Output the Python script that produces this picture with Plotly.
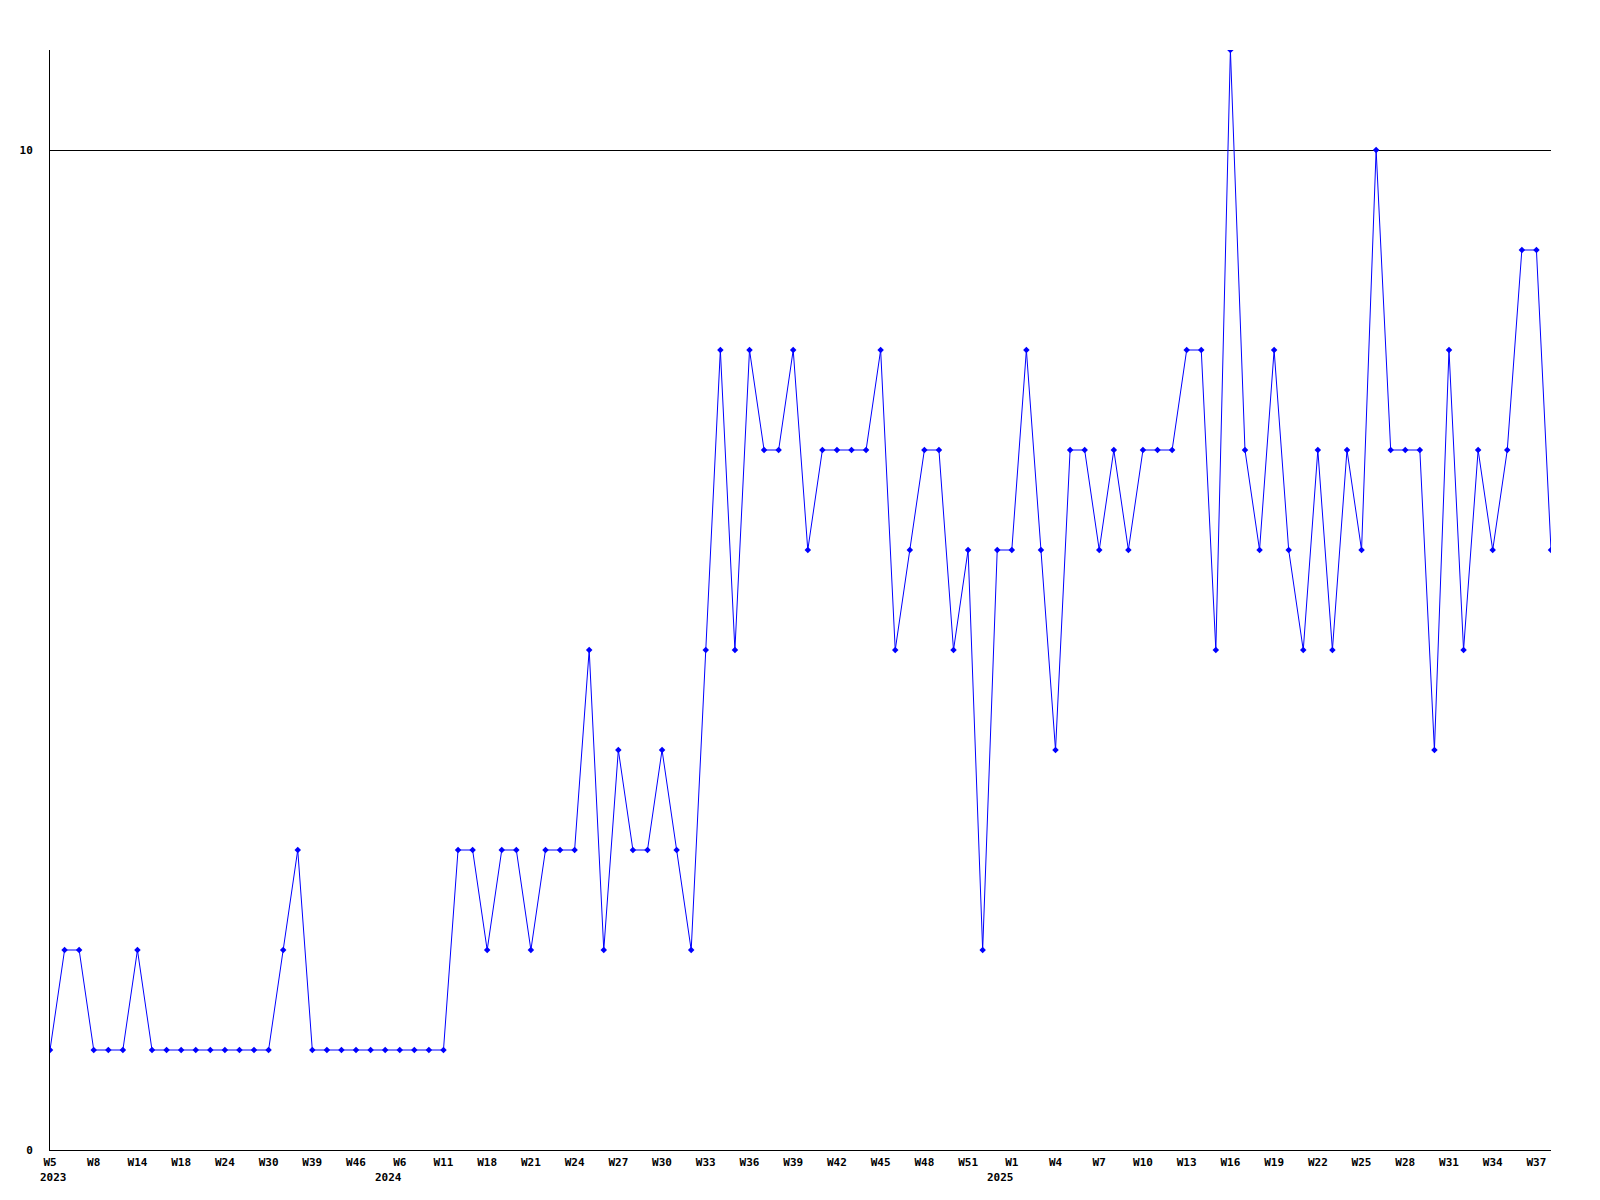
import plotly.graph_objects as go

# Weekly counts (one point per reported week)
values = [
    1, 2, 2, 1, 1, 1, 2, 1, 1, 1, 1, 1, 1, 1, 1, 1, 2, 3, 1, 1,
    1, 1, 1, 1, 1, 1, 1, 1, 3, 3, 2, 3, 3, 2, 3, 3, 3, 5, 2, 4,
    3, 3, 4, 3, 2, 5, 8, 5, 8, 7, 7, 8, 6, 7, 7, 7, 7, 8, 5, 6,
    7, 7, 5, 6, 2, 6, 6, 8, 6, 4, 7, 7, 6, 7, 6, 7, 7, 7, 8, 8,
    5, 11, 7, 6, 8, 6, 5, 7, 5, 7, 6, 10, 7, 7, 7, 4, 8, 5, 7, 6,
    7, 9, 9, 6,
]

# Week tick labels shown every third point
tick_labels = [
    "W5", "W8", "W14", "W18", "W24", "W30", "W39", "W46",
    "W6", "W11", "W18", "W21", "W24", "W27", "W30", "W33",
    "W36", "W39", "W42", "W45", "W48", "W51", "W1", "W4",
    "W7", "W10", "W13", "W16", "W19", "W22", "W25", "W28", "W31",
    "W34", "W37",
]
tick_step = 3

# Year labels: (point index, text)
year_idx = [0, 24, 66]
year_text = ["2023", "2024", "2025"]

y_ticks = [0, 10]

x_index = list(range(len(values)))
tick_positions = x_index[::tick_step][: len(tick_labels)]

fig = go.Figure()
fig.add_trace(
    go.Scatter(
        x=x_index,
        y=values,
        mode="lines+markers",
        line=dict(color="#0000FF", width=1),
        marker=dict(symbol="diamond", size=5, color="#0000FF"),
        showlegend=False,
    )
)

font = dict(family="DejaVu Sans Mono", size=11, color="black", weight="bold")

for i, (xi, txt) in enumerate(zip(year_idx, year_text)):
    first = i == 0
    fig.add_annotation(
        x=xi,
        xref="x",
        y=0,
        yref="paper",
        text=txt,
        showarrow=False,
        font=font,
        xanchor="left" if first else "right",
        xshift=-11 if first else 3,
        yanchor="top",
        yshift=-20,
        borderpad=0,
    )

fig.update_layout(
    width=1600,
    height=1200,
    margin=dict(l=50, r=49, t=50, b=50, pad=0),
    paper_bgcolor="white",
    plot_bgcolor="white",
    showlegend=False,
    xaxis=dict(
        range=[0, len(values) - 1],
        tickmode="array",
        tickvals=tick_positions,
        ticktext=tick_labels,
        tickfont=font,
        showgrid=False,
        zeroline=False,
        showline=True,
        linecolor="black",
        linewidth=1,
        ticks="",
        tickangle=0,
        ticklabelstandoff=2,
    ),
    yaxis=dict(
        range=[0, 11],
        tickmode="array",
        tickvals=y_ticks,
        ticktext=[str(v) for v in y_ticks],
        tickfont=font,
        showgrid=True,
        gridcolor="black",
        gridwidth=1,
        zeroline=False,
        showline=True,
        linecolor="black",
        linewidth=1,
        ticks="",
        ticklabelstandoff=14,
    ),
)

fig.write_html(
    "out.html",
    config={"displayModeBar": False},
    post_script="document.body.style.margin='0';",
)
